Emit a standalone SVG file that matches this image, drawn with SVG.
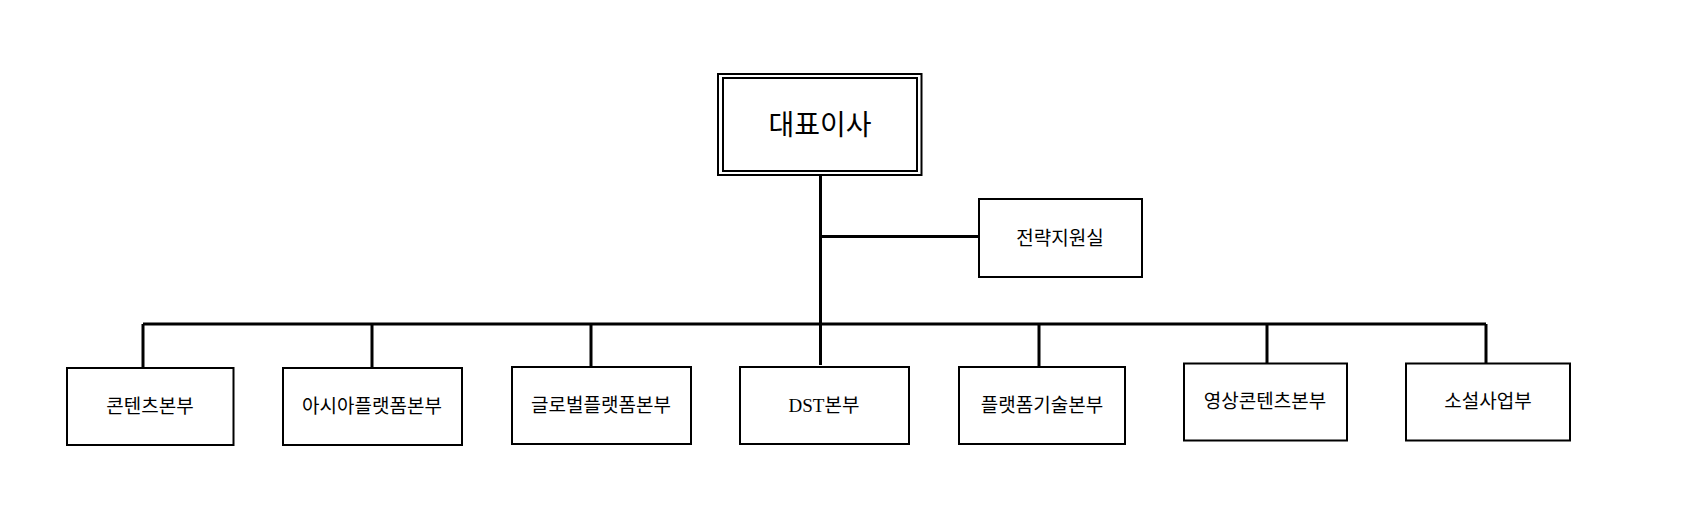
<svg xmlns="http://www.w3.org/2000/svg" width="1684" height="523" viewBox="0 0 1684 523">
<style>
.b{fill:#fff;stroke:#000;stroke-width:2}
.t{font-family:"Liberation Serif","Noto Sans CJK KR",serif;font-size:19px;text-anchor:middle;dominant-baseline:central}
.c{fill:none;stroke:#000;stroke-width:3}
</style>
<rect width="1684" height="523" fill="#fff"/>
<g id="connectors">
<path class="c" d="M820.5 175V365M820.5 236.5H979M143 324H1486M143 324V368M372 324V368M591 324V367M1039 324V367M1267 324V363.5M1486 324V363.5"/>
</g>
<g id="ceo"><rect class="b" x="718" y="74" width="203.5" height="101"/><rect class="b" x="723" y="78" width="194" height="93"/><text class="t" x="820" y="125" style="font-size:28px">대표이사</text></g>
<g id="strategy"><rect class="b" x="979" y="199" width="163" height="78"/><text class="t" x="1060" y="238">전략지원실</text></g>
<g id="n1"><rect class="b" x="67" y="368" width="166.5" height="77"/><text class="t" x="150" y="406">콘텐츠본부</text></g>
<g id="n2"><rect class="b" x="283" y="368" width="179" height="77"/><text class="t" x="372" y="406">아시아플랫폼본부</text></g>
<g id="n3"><rect class="b" x="512" y="367" width="179" height="77"/><text class="t" x="601" y="405">글로벌플랫폼본부</text></g>
<g id="n4"><rect class="b" x="740" y="367" width="169" height="77"/><text class="t" x="824" y="405">DST본부</text></g>
<g id="n5"><rect class="b" x="959" y="367" width="166" height="77"/><text class="t" x="1042" y="405">플랫폼기술본부</text></g>
<g id="n6"><rect class="b" x="1184" y="363.5" width="163" height="77"/><text class="t" x="1265" y="401">영상콘텐츠본부</text></g>
<g id="n7"><rect class="b" x="1406" y="363.5" width="164" height="77"/><text class="t" x="1488" y="401">소설사업부</text></g>
</svg>
